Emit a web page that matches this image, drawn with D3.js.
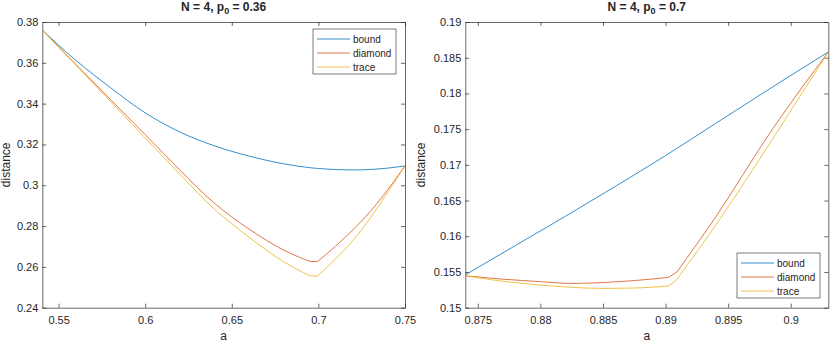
<!DOCTYPE html>
<html>
<head>
<meta charset="utf-8" />
<script src="https://d3js.org/d3.v7.min.js"></script>
<style>
  body { margin: 0; background: #fff; }
  text { font-family: "Liberation Sans", Arial, Helvetica, sans-serif; fill: #262626; }
</style>
</head>
<body>
<script>
// left panel: N = 4, p0 = 0.36
var leftBoundA = [0.5406, 0.56, 0.58, 0.60, 0.62, 0.64, 0.66, 0.68, 0.70, 0.72, 0.74, 0.75];
var leftBound  = [0.3760, 0.3612, 0.3478, 0.3355, 0.3261, 0.3193, 0.3143, 0.3105, 0.3082, 0.3075, 0.3084, 0.3095];
var leftA       = [0.5406, 0.56, 0.58, 0.60, 0.62, 0.63, 0.64, 0.65, 0.66, 0.67, 0.68, 0.695, 0.6995, 0.71, 0.72, 0.73, 0.74, 0.75];
var leftDiamond = [0.3760, 0.3592, 0.3420, 0.3248, 0.3075, 0.2990, 0.2912, 0.2845, 0.2785, 0.2730, 0.2682, 0.2627, 0.2626, 0.2702, 0.2782, 0.2872, 0.2978, 0.3095];
var leftTrace   = [0.3760, 0.3588, 0.3410, 0.3232, 0.3054, 0.2966, 0.2882, 0.2812, 0.2745, 0.2682, 0.2625, 0.2556, 0.2555, 0.2640, 0.2730, 0.2840, 0.2965, 0.3095];
var leftKinks = [0.695, 0.6995];
var leftXTicks = [0.55, 0.6, 0.65, 0.7, 0.75];
var leftYTicks = [0.24, 0.26, 0.28, 0.3, 0.32, 0.34, 0.36, 0.38];

// right panel: N = 4, p0 = 0.7
var rightBoundA = [0.874, 0.878, 0.882, 0.886, 0.890, 0.894, 0.898, 0.903];
var rightBound  = [0.1546, 0.1587, 0.1628, 0.1670, 0.1713, 0.1758, 0.1803, 0.1858];
var rightDiamondA = [0.874, 0.877, 0.880, 0.8825, 0.885, 0.8875, 0.8902, 0.8909, 0.894, 0.8985, 0.903];
var rightDiamond  = [0.15447, 0.1540, 0.15365, 0.15340, 0.15352, 0.15380, 0.15423, 0.1550, 0.1627, 0.1749, 0.1858];
var rightDiamondKinks = [0.8902, 0.8909];
var rightTraceA = [0.874, 0.877, 0.880, 0.8825, 0.885, 0.8875, 0.8902, 0.8908, 0.8943, 0.8988, 0.903];
var rightTrace  = [0.15447, 0.1537, 0.15317, 0.15285, 0.15270, 0.15275, 0.15303, 0.15373, 0.1623, 0.1743, 0.1858];
var rightTraceKinks = [0.8902, 0.8908];
var rightXTicks = [0.875, 0.88, 0.885, 0.89, 0.895, 0.9];
var rightYTicks = [0.15, 0.155, 0.16, 0.165, 0.17, 0.175, 0.18, 0.185, 0.19];

var seriesNames = ["bound", "diamond", "trace"];
var colors = ["#0072BD", "#D95319", "#EDB120"];

var svg = d3.select("body").append("svg")
    .attr("width", 830)
    .attr("height", 342);

function zip(xs, ys) {
    return xs.map((x, i) => [x, ys[i]]);
}

// split a series at its kink points so each piece is smoothed on its own
function pieces(xs, ys, kinks) {
    var pts = zip(xs, ys), out = [], cur = [];
    pts.forEach(function(pt) {
        cur.push(pt);
        if (kinks.indexOf(pt[0]) >= 0) {
            out.push(cur);
            cur = [pt];
        }
    });
    if (cur.length > 1) out.push(cur);
    return out;
}

function drawPanel(p) {
    var x = d3.scaleLinear().domain(p.xDomain).range([p.left, p.right]);
    var y = d3.scaleLinear().domain(p.yDomain).range([p.bottom, p.top]);
    var fmt = d => String(+d.toFixed(4));
    var g = svg.append("g");

    // box with inward ticks on all sides
    g.append("g")
        .attr("transform", "translate(0," + p.bottom + ")")
        .call(d3.axisBottom(x).tickValues(p.xTicks).tickFormat(fmt).tickSizeInner(-4).tickSizeOuter(0).tickPadding(9));
    g.append("g")
        .attr("transform", "translate(0," + p.top + ")")
        .call(d3.axisTop(x).tickValues(p.xTicks).tickFormat("").tickSizeInner(-4).tickSizeOuter(0));
    g.append("g")
        .attr("transform", "translate(" + p.left + ",0)")
        .call(d3.axisLeft(y).tickValues(p.yTicks).tickFormat(fmt).tickSizeInner(-4).tickSizeOuter(0).tickPadding(4));
    g.append("g")
        .attr("transform", "translate(" + p.right + ",0)")
        .call(d3.axisRight(y).tickValues(p.yTicks).tickFormat("").tickSizeInner(-4).tickSizeOuter(0));

    g.selectAll(".domain, .tick line").attr("stroke", "#262626").attr("stroke-width", 0.7);
    g.selectAll(".tick text").style("font-size", "11px").attr("fill", "#262626");

    var line = d3.line().x(d => x(d[0])).y(d => y(d[1])).curve(d3.curveMonotoneX);

    p.series.forEach(function(parts, i) {
        g.append("path")
            .attr("fill", "none")
            .attr("stroke", colors[i])
            .attr("stroke-width", 0.8)
            .attr("stroke-linejoin", "round")
            .attr("d", parts.map(line).join(""));
    });

    // title
    var cx = (p.left + p.right) / 2;
    var t = g.append("text")
        .attr("x", cx)
        .attr("y", 11)
        .attr("text-anchor", "middle")
        .style("font-size", "12px")
        .style("font-weight", "bold");
    t.append("tspan").text("N = 4, p");
    t.append("tspan").attr("dy", 3).style("font-size", "9px").text("0");
    t.append("tspan").attr("dy", -3).text(" = " + p.p0);

    // axis labels
    g.append("text")
        .attr("x", cx)
        .attr("y", 340)
        .attr("text-anchor", "middle")
        .style("font-size", "12px")
        .text("a");
    g.append("text")
        .attr("transform", "translate(" + p.ylabelX + "," + ((p.top + p.bottom) / 2) + ") rotate(-90)")
        .attr("text-anchor", "middle")
        .style("font-size", "12px")
        .text("distance");

    // legend
    var lg = g.append("g").attr("transform", "translate(" + p.legend[0] + "," + p.legend[1] + ")");
    lg.append("rect")
        .attr("width", 83)
        .attr("height", 45)
        .attr("fill", "#fff")
        .attr("stroke", "#262626")
        .attr("stroke-width", 0.6);
    seriesNames.forEach(function(name, i) {
        var ly = 10 + i * 14;
        lg.append("line")
            .attr("x1", 4).attr("x2", 37)
            .attr("y1", ly).attr("y2", ly)
            .attr("stroke", colors[i])
            .attr("stroke-width", 0.8);
        lg.append("text")
            .attr("x", 40)
            .attr("y", ly + 3.5)
            .style("font-size", "10px")
            .text(name);
    });
}

drawPanel({
    left: 42.3, right: 405, top: 22, bottom: 307.7,
    xDomain: [0.5406, 0.75], yDomain: [0.24, 0.38],
    xTicks: leftXTicks, yTicks: leftYTicks,
    series: [
        pieces(leftBoundA, leftBound, []),
        pieces(leftA, leftDiamond, leftKinks),
        pieces(leftA, leftTrace, leftKinks)
    ],
    p0: "0.36", ylabelX: 9.5, legend: [313, 29]
});

drawPanel({
    left: 465.3, right: 828.3, top: 22, bottom: 307.7,
    xDomain: [0.874, 0.903], yDomain: [0.15, 0.19],
    xTicks: rightXTicks, yTicks: rightYTicks,
    series: [
        pieces(rightBoundA, rightBound, []),
        pieces(rightDiamondA, rightDiamond, rightDiamondKinks),
        pieces(rightTraceA, rightTrace, rightTraceKinks)
    ],
    p0: "0.7", ylabelX: 425, legend: [737, 253]
});
</script>
</body>
</html>
